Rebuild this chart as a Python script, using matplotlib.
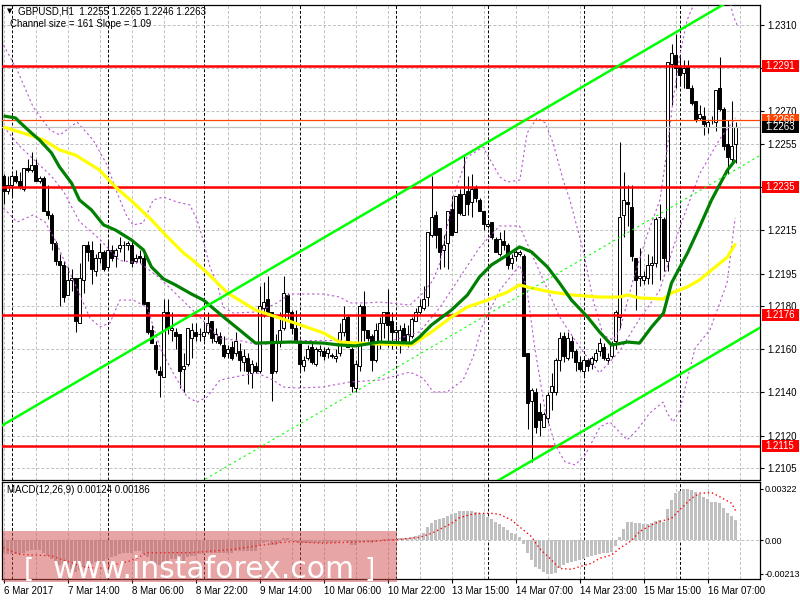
import matplotlib
matplotlib.use("Agg")
import matplotlib.pyplot as plt
import matplotlib.transforms as mtransforms
from matplotlib.patches import Rectangle
import numpy as np

plt.rcParams['font.family'] = ['Liberation Sans', 'DejaVu Sans']

# GBPUSD H1 candles from 6 Mar 22:00, prices in pips above 1.2000
opens = [240, 233, 236, 240, 238, 234, 244, 243, 245, 238,
         239, 224, 222, 209, 201, 199, 185, 192, 193, 172,
         192, 208, 206, 196, 202, 205, 198, 206, 203, 207,
         208, 208, 208, 201, 203, 202, 182, 169, 162, 150,
         147, 177, 169, 168, 167, 151, 153, 165, 168, 167,
         166, 168, 173, 164, 166, 162, 158, 161, 158, 159,
         154, 156, 149, 152, 150, 179, 183, 177, 150, 163,
         170, 185, 177, 170, 163, 152, 156, 161, 153, 159,
         159, 158, 157, 156, 158, 168, 175, 160, 142, 152,
         180, 169, 166, 155, 163, 172, 177, 173, 168, 163,
         170, 162, 166, 173, 177, 179, 184, 213, 222, 216,
         206, 209, 225, 214, 232, 222, 233, 228, 235, 229,
         224, 217, 219, 211, 204, 210, 208, 200, 203, 204,
         203, 158, 136, 140, 131, 124, 128, 140, 140, 155,
         166, 156, 164, 159, 154, 150, 155, 153, 155, 159,
         161, 155, 157, 164, 175, 222, 228, 226, 202, 193,
         192, 193, 199, 200, 221, 220, 201, 292, 296, 291,
         288, 291, 281, 275, 267, 268, 263, 266, 265, 281,
         271, 255, 248, 255]
highs = [241, 240, 241, 243, 242, 244, 248, 251, 248, 240,
         240, 236, 223, 210, 204, 201, 198, 197, 193, 200,
         208, 210, 210, 204, 209, 206, 210, 208, 207, 212,
         210, 210, 210, 204, 206, 206, 182, 171, 164, 152,
         183, 183, 177, 170, 167, 158, 170, 172, 172, 170,
         172, 177, 173, 170, 168, 166, 162, 164, 168, 163,
         160, 158, 155, 154, 189, 191, 194, 177, 167, 177,
         194, 186, 178, 178, 164, 157, 162, 163, 161, 162,
         161, 161, 158, 160, 172, 180, 176, 161, 155, 181,
         187, 169, 167, 172, 175, 177, 188, 177, 171, 171,
         172, 171, 175, 179, 183, 189, 214, 240, 224, 216,
         213, 224, 231, 231, 234, 250, 240, 241, 236, 230,
         224, 219, 219, 212, 214, 215, 209, 204, 206, 206,
         204, 158, 142, 142, 135, 131, 140, 149, 156, 168,
         168, 168, 166, 160, 157, 157, 156, 157, 160, 165,
         163, 158, 164, 178, 256, 242, 236, 236, 202, 207,
         196, 204, 203, 221, 227, 221, 293, 301, 306, 295,
         294, 294, 282, 275, 273, 272, 266, 268, 280, 295,
         272, 266, 275, 265]
lows = [227, 232, 231, 237, 234, 233, 242, 242, 238, 237,
        224, 220, 206, 199, 180, 182, 185, 187, 168, 172,
        186, 201, 190, 194, 200, 196, 197, 201, 198, 205,
        201, 206, 198, 200, 200, 181, 167, 163, 149, 138,
        147, 167, 164, 160, 142, 140, 152, 156, 164, 164,
        164, 167, 163, 163, 162, 156, 156, 155, 157, 150,
        150, 144, 142, 149, 149, 175, 176, 136, 149, 161,
        169, 174, 167, 163, 150, 150, 155, 153, 152, 157,
        155, 156, 156, 154, 157, 166, 161, 140, 140, 150,
        164, 164, 150, 154, 160, 165, 161, 160, 164, 158,
        163, 161, 165, 173, 176, 178, 180, 212, 207, 197,
        198, 197, 213, 214, 222, 222, 222, 221, 228, 224,
        215, 216, 211, 205, 203, 206, 197, 197, 201, 203,
        157, 123, 108, 121, 120, 124, 126, 132, 139, 150,
        154, 155, 156, 150, 150, 147, 150, 151, 154, 157,
        155, 153, 156, 160, 170, 212, 217, 201, 178, 189,
        190, 190, 190, 198, 192, 196, 196, 273, 281, 282,
        281, 281, 273, 265, 266, 259, 260, 264, 261, 270,
        252, 241, 246, 246]
closes = [233, 236, 240, 238, 235, 244, 243, 245, 238, 239,
          224, 222, 209, 201, 199, 184, 192, 193, 173, 193,
          208, 205, 197, 202, 205, 197, 206, 202, 206, 208,
          208, 209, 200, 202, 202, 181, 168, 163, 151, 148,
          177, 170, 170, 166, 150, 152, 170, 169, 166, 167,
          168, 172, 165, 167, 163, 157, 160, 156, 164, 155,
          157, 150, 153, 150, 180, 182, 177, 149, 163, 169,
          186, 177, 170, 164, 153, 155, 160, 154, 160, 160,
          157, 160, 157, 157, 168, 174, 161, 143, 153, 180,
          169, 165, 155, 169, 172, 177, 171, 168, 169, 169,
          164, 167, 174, 177, 180, 183, 214, 221, 213, 205,
          208, 224, 213, 231, 223, 232, 227, 234, 230, 224,
          218, 218, 212, 205, 211, 208, 199, 202, 205, 205,
          157, 135, 141, 124, 127, 130, 139, 143, 155, 165,
          157, 165, 159, 154, 151, 155, 152, 156, 158, 163,
          156, 156, 163, 177, 221, 229, 227, 203, 192, 194,
          194, 199, 200, 220, 221, 202, 293, 297, 290, 287,
          290, 281, 274, 266, 269, 264, 265, 266, 280, 271,
          254, 249, 254, 263]

# moving averages (bar index, pips)
green_bar = [0, 3, 4, 7, 9, 12, 14, 17, 19, 22, 25, 28, 32, 35, 37, 40, 43, 47, 50, 55,
             59, 63, 72, 80, 84, 88, 94, 102, 104, 107, 112, 116, 119, 122, 126, 129, 132, 136, 139, 142,
             146, 149, 152, 156, 159, 162, 165, 167, 171, 174, 177, 181, 183]
green_ma = [267.9, 267, 265.1, 260, 256.8, 250.8, 244.3, 236.9, 229, 224.4,
            217.5, 215.1, 210.5, 205.9, 198, 192.5, 189.7, 185.5, 182.7, 174.9,
            168.9, 162.8, 163.3, 162.8, 161.9, 161.5, 163.3, 162.8, 165.6, 171.2,
            178.1, 185.1, 193.4, 199, 203.6, 207.3, 205, 198, 190.6, 182.7,
            174.9, 168, 161.9, 163.3, 162.8, 170.2, 176.7, 190.6, 204.5, 216.5,
            229, 242.9, 247.5]
yellow_bar = [0, 4, 8, 10, 14, 18, 24, 28, 32, 37, 41, 45, 47, 51, 56, 63, 72, 80, 84, 88,
              94, 102, 107, 112, 116, 121, 126, 129, 132, 137, 142, 149, 154, 156, 159, 165, 167, 171, 174, 177,
              181, 183]
yellow_ma = [262.8, 260.5, 258.2, 256.8, 252.2, 249.8, 242.9, 235, 228.6, 219.8,
             211.9, 204.5, 201.7, 195.2, 186, 178.1, 172.6, 167.5, 163.3, 162.8,
             162.4, 161.9, 167.9, 174.9, 179.5, 182.7, 186.4, 189.7, 188.3, 186.4,
             185.1, 184.1, 184.1, 185.1, 183.7, 183.2, 186, 188.8, 192, 196.6,
             202.6, 208.9]

# Bollinger bands (purple dashed)
bb_up_bar = [0, 3.4, 7.4, 11.6, 14.1, 18.4, 22.4, 25.9, 28.4, 30.9, 32.4, 34.9, 37.4, 39.9, 43.4,
             46.6, 48.4, 49.9, 51.6, 53.4, 54.9, 57.4, 63.4, 68.4, 71.6, 79.9, 84.1, 86.6, 90.9, 94.1,
             101.6, 104.9, 107.4, 109.1, 112.4, 115.9, 119.9, 124.1, 125.9, 129.1, 130.9, 133.4, 135.4,
             137.4, 139.9, 141.6, 144.9, 147.4, 149.9, 152.4, 154.1, 157.4, 160.9, 164.1, 165.9, 167.4,
             169.1, 170.9, 174.1, 180.9, 182.4, 183.4]
bb_up = [300.7, 289.2, 272.1, 261.4, 259.1, 265.1, 256.8, 245.2, 232.3, 221.2, 217.5, 218.4, 229,
         230.4, 228.1, 226.7, 219.8, 210.5, 198, 190.6, 179.5, 176.7, 177.2, 181.4, 185.5, 185.5,
         184.1, 181.4, 181.4, 181.8, 180.4, 186, 192, 199.9, 230.4, 248.9, 253.5, 239.7, 237.3,
         238.3, 260, 267, 264.7, 255.4, 238.3, 229, 205.9, 182.7, 166.5, 164.2, 168.9, 192, 212.8,
         229, 252.2, 275.3, 296.1, 312.3, 326.2, 326.2, 314.6, 310]
bb_mid_bar = [0, 4, 8, 12, 15, 19, 24, 29, 34, 39, 44, 49, 54, 59, 64, 69, 74, 79, 84, 89,
              94, 99, 104, 109, 114, 119, 124, 129, 134, 139, 144, 149, 154, 159, 164, 169, 174, 179, 183]
bb_mid = [263, 254, 247, 240, 233, 219, 211, 201, 200, 193, 184, 175, 165, 164, 162, 163, 164,
          164, 164, 163, 162, 165, 168, 179, 193, 207, 217, 217, 196, 175, 161, 149, 159, 174,
          187, 216, 241, 257, 267]
bb_low_bar = [0, 3.4, 7.4, 10.4, 12.9, 15.9, 19.1, 21.6, 24.1, 26.6, 29.1, 32.4, 35.9, 39.1, 42.4,
              45.9, 48.4, 50.9, 54.1, 59.1, 63.4, 67.4, 69.9, 73.4, 79.9, 86.6, 94.1, 101.6, 104.9,
              107.4, 110.9, 114.9, 117.4, 119.6, 124.1, 129.1, 130.9, 132.9, 135.4, 137.9, 140.4,
              142.9, 145.4, 149.1, 151.6, 155.9, 158.4, 161.6, 164.9, 165.9, 167.4, 169.1, 170.9,
              172.9, 176.6, 180.9, 182.9]
bb_low = [225.3, 218.8, 222.1, 218.8, 210.5, 198, 185.1, 174.4, 170.3, 172.1, 182.7, 182.7, 179.5,
          161, 149, 137.9, 135.5, 137.9, 145.7, 147.6, 149, 145.7, 142.5, 142, 142.5, 144.8, 145.7,
          149.4, 146.6, 140.2, 140.2, 145.7, 156.4, 170.3, 187.4, 198.9, 187.4, 159.6, 131.8, 115.6,
          107.8, 106.4, 111, 124, 126.3, 118, 122.6, 130.5, 135.5, 130.5, 126.3, 131.8, 145.7, 160.5,
          168.9, 190.6, 220.7]

# drawn objects
levels = [1.2291, 1.2235, 1.2176, 1.2115]
level_labels = ['1.2291', '1.2235', '1.2176', '1.2115']
marker_level = 1.2266
bid = 1.2263
chan_anchor_bar = [74, 149]
chan_anchor_top = [205.0, 286.0]
chan_width = 159.4

# MACD(12,26,9) main histogram and signal, in units of 0.0001
macd_hist = [-8, -9, -9, -9, -9, -8, -7, -6, -6, -6,
             -8, -10, -12, -14, -16, -18, -18, -18, -20, -19,
             -17, -16, -15, -14, -13, -13, -12, -11, -10, -9,
             -8, -8, -8, -7, -7, -9, -11, -13, -15, -16,
             -14, -13, -12, -12, -13, -13, -11, -10, -10, -9,
             -9, -8, -8, -8, -8, -8, -8, -8, -7, -7,
             -7, -7, -7, -7, -4, -2, -1, -3, -3, -2,
             1, 1, 0, -1, -2, -2, -2, -2, -2, -2,
             -2, -2, -2, -2, -1, 0, -1, -3, -3, -1,
             -1, -1, -2, -1, 0, 0.5, 0.5, 0.5, 0.5, 1,
             1, 1.5, 2, 2.5, 3, 4.6, 8, 10.5, 12.6, 13,
             14, 15.4, 16.2, 17.3, 18.1, 18.3, 18.3, 18.3, 17.9, 17.3,
             16.2, 14.7, 13, 11.6, 9.9, 8, 6.3, 4.6, 3.8, 2.1,
             -2.5, -8, -12.6, -16.8, -18.5, -20, -21.3, -21.3, -21, -17.9,
             -15.8, -14.7, -13.7, -13, -12.6, -11.8, -10.9, -10.1, -9.7, -9,
             -8.4, -8, -7.4, -3.8, 2.1, 6.7, 11.2, 11.6, 10.9, 10.5,
             10.1, 10.1, 10.5, 12.2, 12.6, 11.6, 19.4, 25.3, 29.5, 31,
             32.2, 32.2, 31.5, 30.5, 29.1, 27.4, 25.7, 24.2, 24.2, 23.2,
             20, 16.8, 15.2, 12.4]
signal_bar = [0, 4, 12, 20, 24, 27, 32, 36, 41, 47, 57, 68, 72, 80, 91, 99, 104, 107, 109, 112,
              114, 117, 119, 122, 124, 127, 129, 132, 134, 137, 139, 142, 144, 147, 149, 152, 154, 157,
              159, 162, 164, 167, 169, 172, 174, 177, 179, 182, 183]
signal = [-5, -9, -10, -17, -18, -16, -13, -8, -8, -8, -6, -2, -1, -2, -1, 0.4, 1.7, 4.2, 6.7, 10.5,
          14.1, 16.2, 16.8, 16.8, 16.2, 12.6, 8.4, 2.1, -5.3, -12.6, -17.9, -18.5, -16.8, -14.7, -11.6,
          -9.5, -5.3, -0.4, 5.3, 9.5, 11.6, 13.7, 18.9, 26.3, 29.5, 29.9, 27.4, 23.2, 18.6]

# axes furniture
time_ticks = [0, 16, 32, 48, 64, 80, 96, 112, 128, 144, 160, 176]
time_labels = ['6 Mar 2017', '7 Mar 14:00', '8 Mar 06:00', '8 Mar 22:00', '9 Mar 14:00',
               '10 Mar 06:00', '10 Mar 22:00', '13 Mar 15:00', '14 Mar 07:00', '14 Mar 23:00',
               '15 Mar 15:00', '16 Mar 07:00']
day_starts = [2, 26, 50, 74, 98, 121, 145, 169]
price_ticks = [1.2310, 1.2290, 1.2270, 1.2255, 1.2235, 1.2215, 1.2195, 1.2180,
               1.2160, 1.2140, 1.2120, 1.2105]


def pr(v):
    return 1.2 + np.asarray(v, dtype=float) / 10000.0


GRID = '#c0c0c0'
DASH = (0, (3, 2))

fig = plt.figure(figsize=(8, 6), dpi=100, facecolor='white')
ax = fig.add_axes([2 / 800, 120 / 600, 758 / 800, 475 / 600])
axm = fig.add_axes([2 / 800, 21 / 600, 758 / 800, 97 / 600])

for a in (ax, axm):
    for s in a.spines.values():
        s.set_color('black')
        s.set_linewidth(0.9)
    for g in range(0, 190, 8):
        a.axvline(g, color=GRID, lw=0.7, ls=DASH, zorder=0.5)
    for d in day_starts:
        a.axvline(d, color='black', lw=0.7, ls=DASH, zorder=0.6)

for p in price_ticks:
    ax.axhline(p, color=GRID, lw=0.7, ls=DASH, zorder=0.5)

# candles
o, h, l, c = pr(opens), pr(highs), pr(lows), pr(closes)
x = np.arange(len(closes))
bull = c >= o
ax.vlines(x, l, h, color='black', lw=0.75, zorder=2)
body = np.maximum(np.abs(c - o), 0.00002)
ax.bar(x, body, bottom=np.minimum(o, c), width=0.55,
       color=np.where(bull, 'white', 'black'), edgecolor='black', linewidth=0.7, zorder=2.5)

# Bollinger bands
for bx, by in ((bb_up_bar, bb_up), (bb_mid_bar, bb_mid), (bb_low_bar, bb_low)):
    ax.plot(bx, pr(by), color='#ba55d3', lw=0.8, ls=(0, (2, 2.5)), zorder=2.8)

# levels
for p in levels:
    ax.axhline(p, color='#ff0000', lw=1.8, zorder=3)
ax.axhline(marker_level, color='#ff4500', lw=0.9, zorder=3)
ax.axhline(bid, color=GRID, lw=0.9, zorder=3)

# moving averages
ax.plot(yellow_bar, pr(yellow_ma), color='#ffff00', lw=2.3, zorder=4, solid_capstyle='butt')
ax.plot(green_bar, pr(green_ma), color='#008000', lw=2.3, zorder=4.1, solid_capstyle='butt')

# equidistant channel
slope = (chan_anchor_top[1] - chan_anchor_top[0]) / (chan_anchor_bar[1] - chan_anchor_bar[0])
cx = np.array([-2, 192])
top = chan_anchor_top[0] + slope * (cx - chan_anchor_bar[0])
ax.plot(cx, pr(top), color='#00ff00', lw=1.8, zorder=5)
ax.plot(cx, pr(top - chan_width), color='#00ff00', lw=1.8, zorder=5)
ax.plot(cx, pr(top - chan_width / 2), color='#00ff00', lw=0.8, ls=(0, (2, 3)), zorder=5)

ax.set_xlim(-0.375, 189.125)
ax.set_ylim(1.209945, 1.231925)
ax.tick_params(axis='x', bottom=False, labelbottom=False)
ax.yaxis.tick_right()
ax.set_yticks(price_ticks)
# the 1.2235 label sits completely under the level box
ax.set_yticklabels(['' if abs(p - 1.2235) < 1e-6 else '%.4f' % p for p in price_ticks])
ax.tick_params(axis='y', direction='out', length=3, width=0.8, pad=2, labelsize=7)

# price boxes on the right scale
trans = mtransforms.blended_transform_factory(fig.transFigure, ax.transData)
boxes = [(p, t, '#ff0000') for p, t in zip(levels, level_labels)]
boxes += [(marker_level, '1.2266', '#ff4500'), (bid, '1.2263', 'black')]
for p, t, fc in boxes:
    ax.add_patch(Rectangle((762 / 800, p - 0.00028), 37 / 800, 0.00056, transform=trans,
                           facecolor=fc, edgecolor='none', clip_on=False, zorder=10))
    ax.text(765 / 800, p, t, transform=trans, color='white', fontsize=7,
            va='center', ha='left', clip_on=False, zorder=11)
ax.set_ylim(1.209945, 1.231925)

fig.text(7 / 800, 1 - 11 / 600, '\u25bc', fontsize=5, family='DejaVu Sans', va='center')
fig.text(18 / 800, 1 - 11 / 600, 'GBPUSD,H1  1.2255 1.2265 1.2246 1.2263', fontsize=7, va='center')
fig.text(10 / 800, 1 - 24 / 600, 'Channel size = 161 Slope = 1.09', fontsize=7, va='center')

# MACD panel
axm.axhline(0, color=GRID, lw=0.7, ls=DASH, zorder=1)
axm.bar(x, np.asarray(macd_hist) / 10000.0, width=0.75, color='#c0c0c0', zorder=2)
axm.plot(signal_bar, np.asarray(signal) / 10000.0, color='#ff0000', lw=1.0, ls=(0, (1, 2)), zorder=3)
axm.set_xlim(-0.375, 189.125)
axm.set_ylim(-0.00246, 0.00366)
axm.yaxis.tick_right()
axm.set_yticks([0.00322, 0.0, -0.00213])
axm.set_yticklabels(['0.00322', '0.00', '-0.00213'])
axm.tick_params(axis='y', direction='out', length=2, width=0.8, pad=1, labelsize=6.5)
axm.set_xticks(time_ticks)
axm.set_xticklabels(time_labels)
axm.tick_params(axis='x', direction='out', length=3, width=0.8, pad=2, labelsize=7)
for lab in axm.get_xticklabels():
    lab.set_ha('left')
fig.text(7 / 800, 1 - 490 / 600, 'MACD(12,26,9) 0.00124 0.00186', fontsize=7, va='center')

# watermark
fig.add_artist(Rectangle((3 / 800, 1 - 582 / 600), 394 / 800, 51 / 600, transform=fig.transFigure,
                         facecolor='#d24d4d', alpha=0.5, edgecolor='none', zorder=5))
fig.text(24 / 800, 1 - 577 / 600, '[', color='white', fontsize=19, family='DejaVu Sans',
         va='baseline', zorder=6)
fig.text(53 / 800, 1 - 578 / 600, 'www.instaforex.com', color='white', fontsize=21.5,
         family='DejaVu Sans', va='baseline', zorder=6)
fig.text(364 / 800, 1 - 577 / 600, ']', color='white', fontsize=19, family='DejaVu Sans',
         va='baseline', zorder=6)

fig.savefig('out.png', dpi=100, facecolor='white')
